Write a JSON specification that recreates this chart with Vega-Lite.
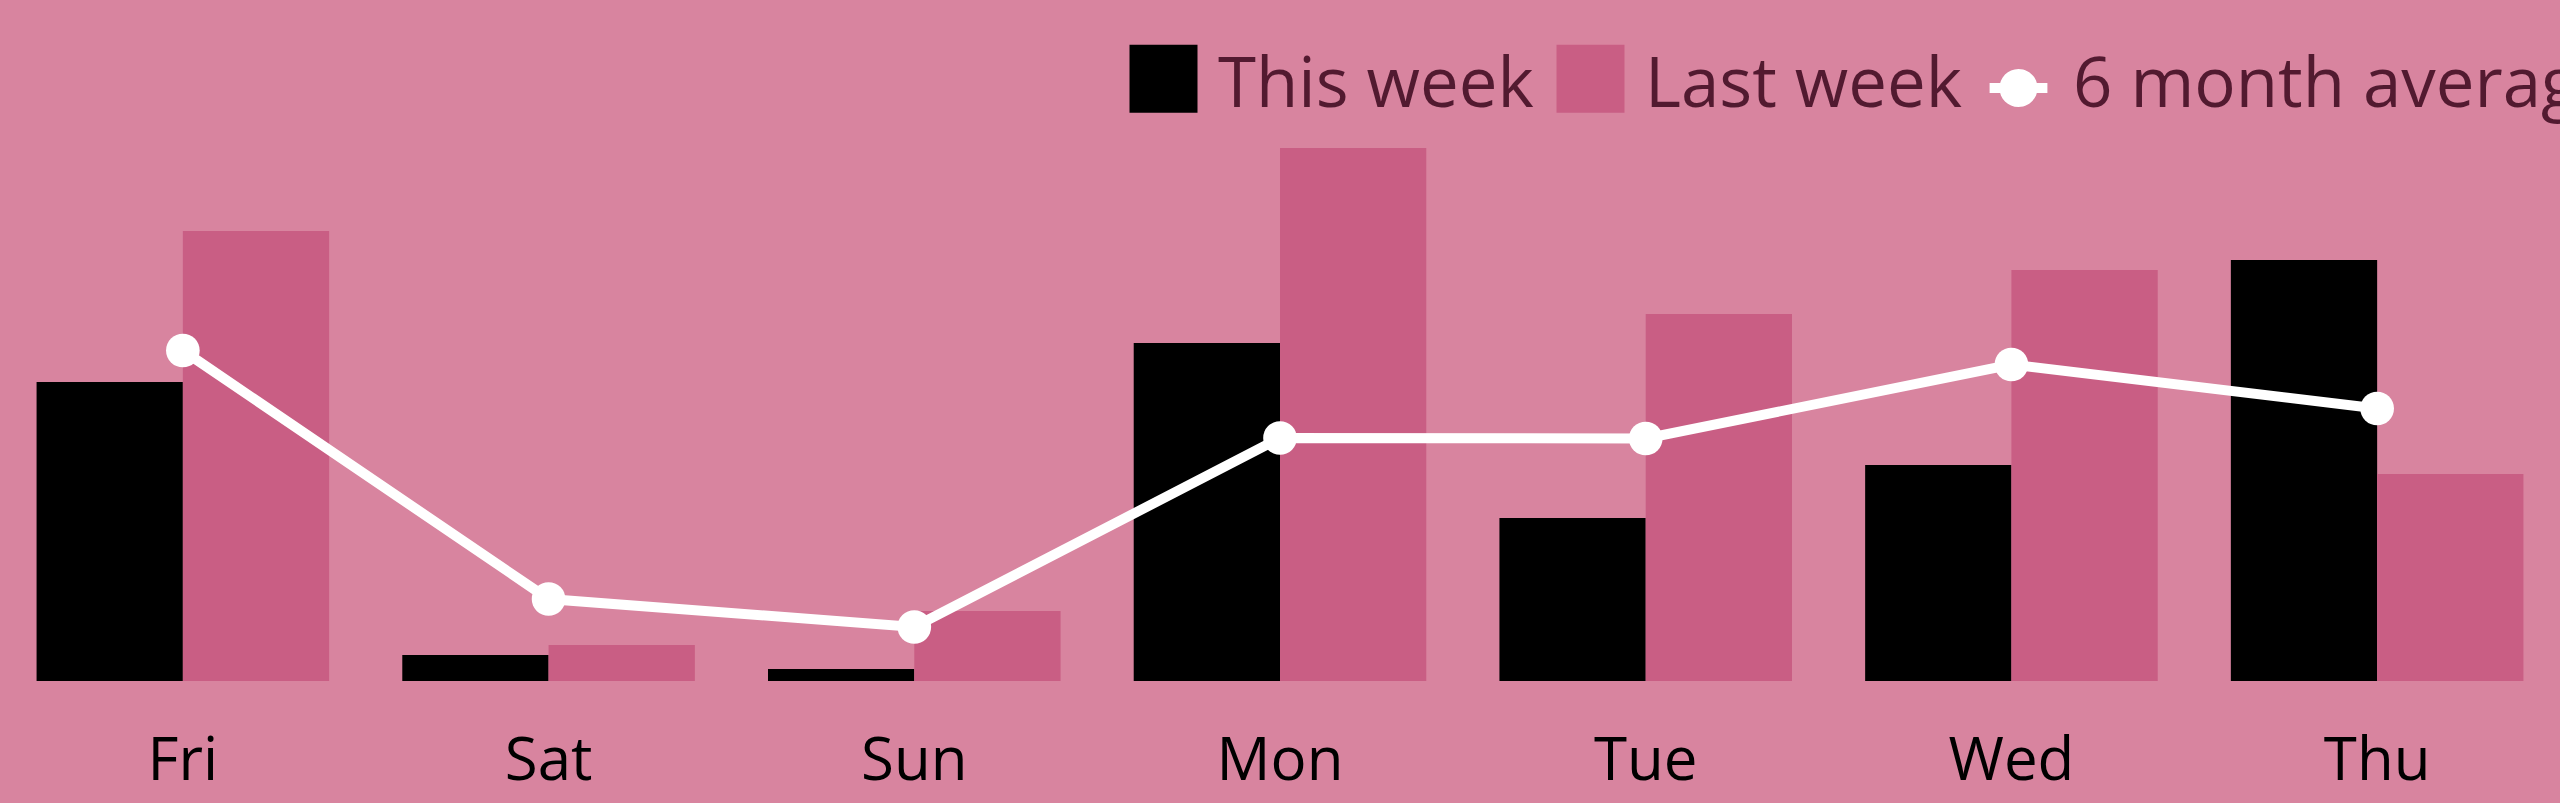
{
  "$schema": "https://vega.github.io/schema/vega-lite/v6.json",
  "width": 2560,
  "height": 600,
  "autosize": {"type": "none"},
  "padding": {"left": 0, "right": 0, "top": 81, "bottom": 122},
  "background": "#d8849f",
  "config": {"view": {"stroke": null}, "font": "Open Sans"},
  "data": {
    "values": [
      {"day": "Fri", "series": "This week", "value": 29.9},
      {"day": "Fri", "series": "Last week", "value": 45.0},
      {"day": "Fri", "series": "6 month average", "value": 33.05},
      {"day": "Sat", "series": "This week", "value": 2.6},
      {"day": "Sat", "series": "Last week", "value": 3.6},
      {"day": "Sat", "series": "6 month average", "value": 8.2},
      {"day": "Sun", "series": "This week", "value": 1.2},
      {"day": "Sun", "series": "Last week", "value": 7.0},
      {"day": "Sun", "series": "6 month average", "value": 5.4},
      {"day": "Mon", "series": "This week", "value": 33.8},
      {"day": "Mon", "series": "Last week", "value": 53.3},
      {"day": "Mon", "series": "6 month average", "value": 24.3},
      {"day": "Tue", "series": "This week", "value": 16.3},
      {"day": "Tue", "series": "Last week", "value": 36.7},
      {"day": "Tue", "series": "6 month average", "value": 24.25},
      {"day": "Wed", "series": "This week", "value": 21.6},
      {"day": "Wed", "series": "Last week", "value": 41.1},
      {"day": "Wed", "series": "6 month average", "value": 31.65},
      {"day": "Thu", "series": "This week", "value": 42.1},
      {"day": "Thu", "series": "Last week", "value": 20.7},
      {"day": "Thu", "series": "6 month average", "value": 27.25}
    ]
  },
  "layer": [
    {
      "transform": [{"filter": "datum.series !== '6 month average'"}],
      "mark": {"type": "bar"},
      "encoding": {
        "x": {
          "field": "day",
          "type": "nominal",
          "sort": ["Fri", "Sat", "Sun", "Mon", "Tue", "Wed", "Thu"],
          "scale": {"paddingInner": 0.2, "paddingOuter": 0.1},
          "axis": {
            "title": null,
            "domain": false,
            "ticks": false,
            "grid": false,
            "labelAngle": 0,
            "labelFont": "Open Sans",
            "labelFontSize": 60,
            "labelColor": "#000000",
            "labelPadding": 51
          }
        },
        "xOffset": {
          "field": "series",
          "type": "nominal",
          "sort": ["This week", "Last week"],
          "scale": {"domain": ["This week", "Last week"], "paddingInner": 0, "paddingOuter": 0}
        },
        "y": {
          "field": "value",
          "type": "quantitative",
          "scale": {"domain": [0, 60]},
          "axis": null
        },
        "color": {
          "field": "series",
          "type": "nominal",
          "scale": {
            "domain": ["This week", "Last week", "6 month average"],
            "range": ["#000000", "#c95e84", "#ffffff"]
          },
          "legend": {
            "orient": "none",
            "legendX": 1129,
            "legendY": -37,
            "direction": "horizontal",
            "title": null,
            "padding": 0,
            "symbolSize": 4624,
            "symbolType": "square",
            "symbolStrokeWidth": 0,
            "symbolOpacity": 1,
            "labelFont": "Open Sans",
            "labelFontSize": 69,
            "labelColor": "#521a30",
            "labelOffset": 20,
            "labelLimit": 0,
            "columnPadding": 22,
            "encode": {
              "labels": {
                "update": {"dy": {"value": 7}}
              },
              "symbols": {
                "update": {
                  "shape": {"signal": "datum.value === '6 month average' ? 'M-0.85,0.125H-0.53V0.42H-0.85Z M0.53,0.125H0.85V0.42H0.53Z M0.56,0.27A0.56,0.56,0,1,1,-0.56,0.27A0.56,0.56,0,1,1,0.56,0.27Z' : 'square'"}
                }
              }
            }
          }
        }
      }
    },
    {
      "transform": [{"filter": "datum.series === '6 month average'"}],
      "mark": {
        "type": "line",
        "color": "#ffffff",
        "strokeWidth": 10,
        "point": {"filled": true, "size": 1134, "color": "#ffffff", "opacity": 1}
      },
      "encoding": {
        "x": {"field": "day", "type": "nominal", "sort": ["Fri", "Sat", "Sun", "Mon", "Tue", "Wed", "Thu"]},
        "y": {"field": "value", "type": "quantitative"}
      }
    }
  ]
}
